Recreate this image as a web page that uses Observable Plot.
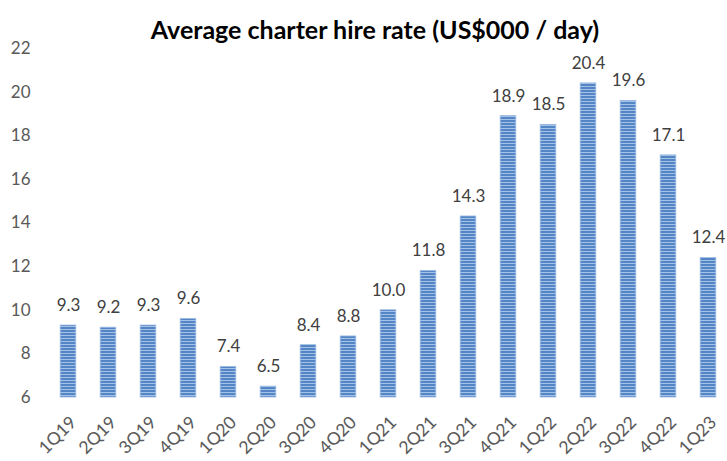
<!DOCTYPE html>
<html><head><meta charset="utf-8">
<script src="https://cdn.jsdelivr.net/npm/d3@7"></script>
<script src="https://cdn.jsdelivr.net/npm/@observablehq/plot@0.6"></script>
<style>body{margin:0;background:#fff;}</style>
</head><body><div id="chart"></div>
<script>
const quarters = ["1Q19","2Q19","3Q19","4Q19","1Q20","2Q20","3Q20","4Q20","1Q21","2Q21","3Q21","4Q21","1Q22","2Q22","3Q22","4Q22","1Q23"];
const rates = [9.3, 9.2, 9.3, 9.6, 7.4, 6.5, 8.4, 8.8, 10.0, 11.8, 14.3, 18.9, 18.5, 20.4, 19.6, 17.1, 12.4];
const yTicks = [6, 8, 10, 12, 14, 16, 18, 20, 22];
const title = "Average charter hire rate (US$000 / day)";

const data = quarters.map((q, i) => ({q, v: rates[i]}));

const chart = Plot.plot({
  width: 727, height: 461,
  marginTop: 48, marginBottom: 64, marginLeft: 48, marginRight: 0,
  style: {fontFamily: "Lato, sans-serif", background: "#fff", overflow: "visible"},
  x: {domain: quarters, range: [48, 728], round: false, paddingInner: 0.61, paddingOuter: 0.305, label: null},
  y: {domain: [6, 22], label: null},
  marks: [
    Plot.barY(data, {x: "q", y1: 6, y2: "v", fill: "url(#stripes)", stroke: "#9dbbe3", strokeWidth: 0.8}),
    Plot.ruleY([6], {x1: 48, x2: 727, stroke: "#bfbfbf", strokeWidth: 2.5}),
    Plot.text(data, {x: "q", y: "v", text: d => d.v.toFixed(1), dy: -20, fontSize: 17, fill: "#404040"}),
    Plot.axisY({ticks: yTicks, tickSize: 0, tickPadding: 18, fontSize: 17, color: "#595959", label: null}),
    Plot.axisX({tickSize: 0, tickPadding: 22, dx: 5, tickRotate: -45, fontSize: 17.5, color: "#595959", label: null}),
    Plot.text([title], {frameAnchor: "top", dx: -13, dy: -27, fontSize: 25, fontWeight: "bold", fill: "#000"})
  ]
});

const ns = "http://www.w3.org/2000/svg";
const defs = document.createElementNS(ns, "defs");
defs.innerHTML = '<pattern id="stripes" patternUnits="userSpaceOnUse" width="4" height="3"><rect width="4" height="3" fill="#5485c4"/><rect y="2" width="4" height="1" fill="#a3c0e6"/></pattern>';
chart.insertBefore(defs, chart.firstChild);
document.getElementById("chart").appendChild(chart);
</script>
</body></html>
